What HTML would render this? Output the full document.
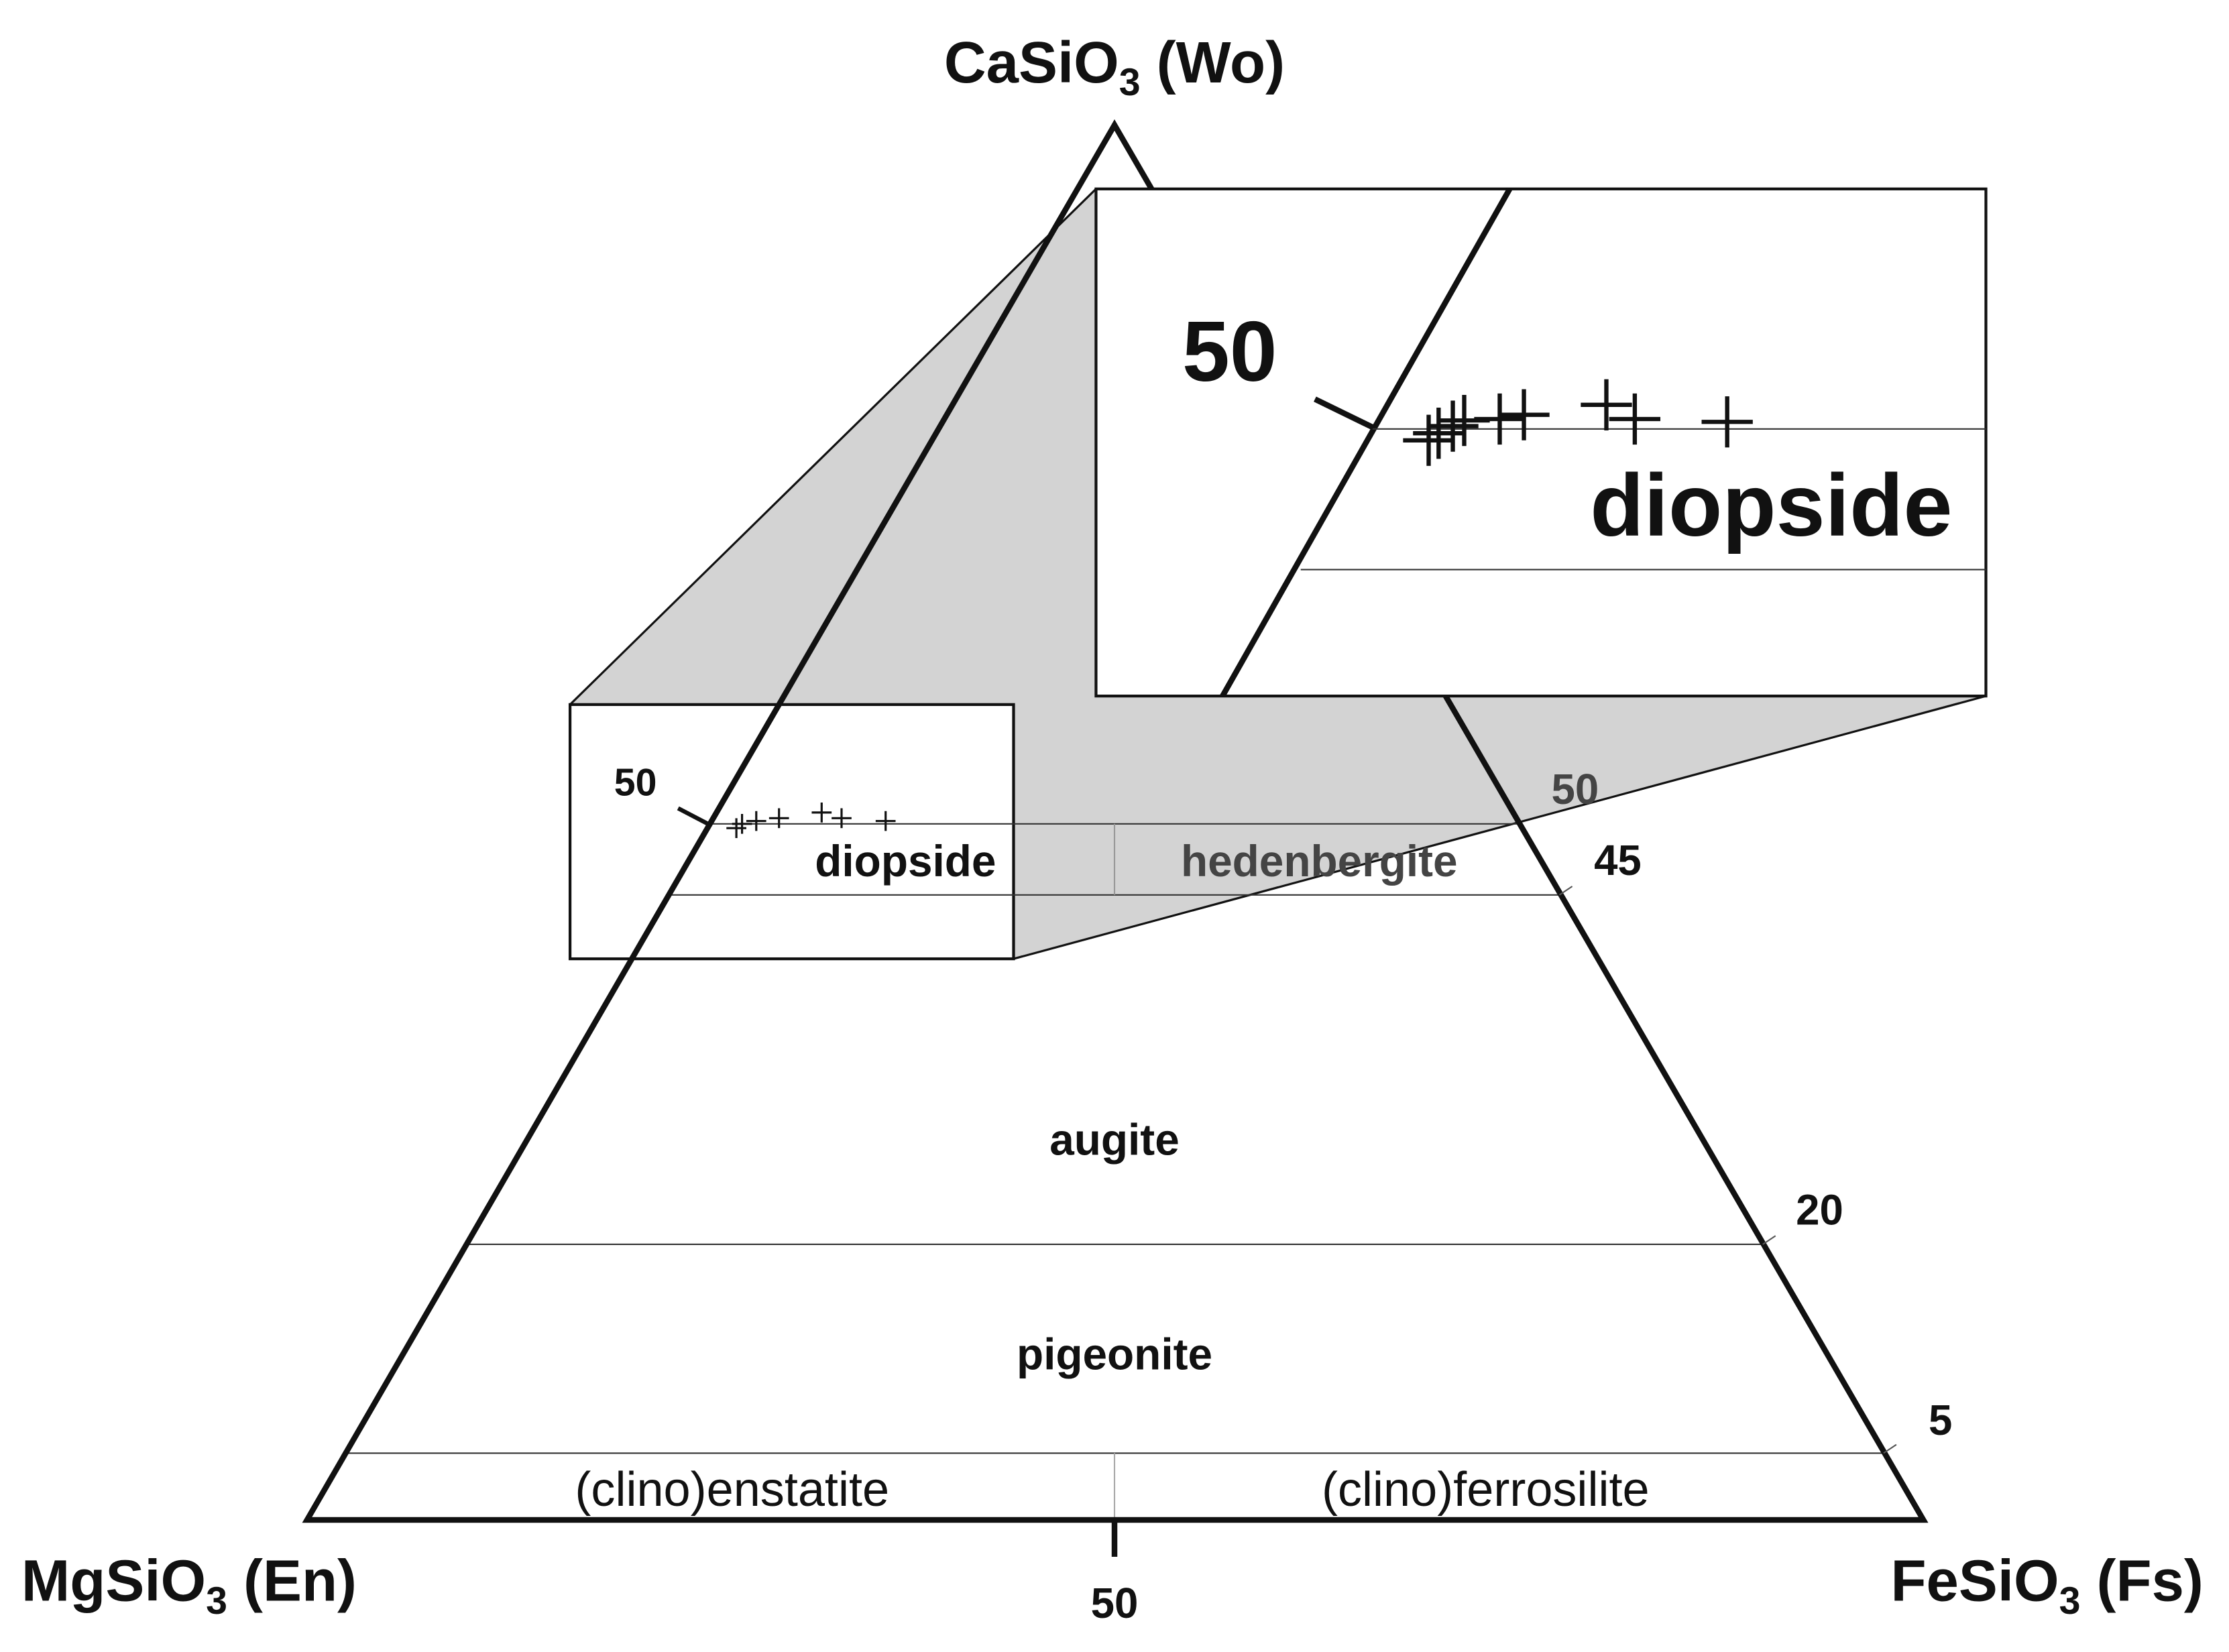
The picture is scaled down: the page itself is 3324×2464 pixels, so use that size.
<!DOCTYPE html>
<html><head><meta charset="utf-8"><style>
html,body{margin:0;padding:0;background:#fff;}
svg{display:block}
text{font-family:"Liberation Sans",Arial,sans-serif;font-weight:bold;fill:#111}
</style></head><body>
<svg width="3324" height="2464" viewBox="0 0 1568 1163" preserveAspectRatio="none" xmlns="http://www.w3.org/2000/svg">
<rect width="1568" height="1163" fill="#fff"/>
<polygon points="401,496 771,133 1397,133 1397,490 713,675 401,675" fill="#d3d3d3" stroke="none"/>
<line x1="401" y1="496" x2="771" y2="133" stroke="#111" stroke-width="1.5"/>
<line x1="713" y1="675" x2="1397" y2="490" stroke="#111" stroke-width="1.5"/>
<rect x="401" y="496" width="312" height="179" fill="#fff" stroke="#111" stroke-width="2"/>
<line x1="499" y1="580" x2="1069" y2="580" stroke="#333" stroke-width="1"/>
<line x1="470" y1="630" x2="1097" y2="630" stroke="#333" stroke-width="1"/>
<line x1="784" y1="580" x2="784" y2="630" stroke="#999" stroke-width="1"/>
<line x1="328" y1="876" x2="1240" y2="876" stroke="#333" stroke-width="1"/>
<line x1="243" y1="1023" x2="1325" y2="1023" stroke="#333" stroke-width="1"/>
<line x1="784" y1="1023" x2="784" y2="1070" stroke="#aaa" stroke-width="1"/>
<polygon points="784,88 216,1070 1353,1070" fill="none" stroke="#111" stroke-width="4" stroke-linejoin="miter"/>
<line x1="784" y1="1070" x2="784" y2="1096" stroke="#111" stroke-width="4"/>
<line x1="1097" y1="630" x2="1106" y2="624" stroke="#555" stroke-width="1"/>
<line x1="1240" y1="876" x2="1249" y2="870" stroke="#555" stroke-width="1"/>
<line x1="1325" y1="1023" x2="1334" y2="1017" stroke="#555" stroke-width="1"/>
<line x1="477" y1="569" x2="498" y2="580" stroke="#111" stroke-width="3"/>
<g stroke="#111" stroke-width="1.5">
<path d="M511,583h14M518,576v14M515,580h14M522,573v14M525,578h14M532,571v14M541,576h14M548,569v14M571,572h14M578,565v14M585,576h14M592,569v14M616,578h14M623,571v14"/>
</g>
<text x="447" y="560" font-size="27" text-anchor="middle">50</text>
<text x="637" y="617" font-size="31" text-anchor="middle">diopside</text>
<text x="928" y="617" font-size="31" text-anchor="middle" style="fill:#444">hedenbergite</text>
<text x="1108" y="566" font-size="30" text-anchor="middle" style="fill:#444">50</text>
<text x="1138" y="616" font-size="30" text-anchor="middle">45</text>
<text x="1280" y="862" font-size="30" text-anchor="middle">20</text>
<text x="1365" y="1010" font-size="30" text-anchor="middle">5</text>
<text x="784" y="813" font-size="31" text-anchor="middle">augite</text>
<text x="784" y="964" font-size="31" text-anchor="middle">pigeonite</text>
<text x="515" y="1060" font-size="34" text-anchor="middle" style="font-weight:normal">(clino)enstatite</text>
<text x="1045" y="1060" font-size="34" text-anchor="middle" style="font-weight:normal">(clino)ferrosilite</text>
<text x="784" y="1139" font-size="30" text-anchor="middle">50</text>
<text x="784" y="58" font-size="41" text-anchor="middle">CaSiO<tspan font-size="27" dy="9">3</tspan><tspan dy="-9"> (Wo)</tspan></text>
<text x="133" y="1127" font-size="41" text-anchor="middle">MgSiO<tspan font-size="27" dy="9">3</tspan><tspan dy="-9"> (En)</tspan></text>
<text x="1440" y="1127" font-size="41" text-anchor="middle">FeSiO<tspan font-size="27" dy="9">3</tspan><tspan dy="-9"> (Fs)</tspan></text>
<rect x="771" y="133" width="626" height="357" fill="#fff" stroke="#111" stroke-width="2"/>
<line x1="860" y1="490" x2="1062" y2="133" stroke="#111" stroke-width="4"/>
<line x1="965" y1="302" x2="1397" y2="302" stroke="#333" stroke-width="1"/>
<line x1="915" y1="401" x2="1397" y2="401" stroke="#333" stroke-width="1"/>
<line x1="925" y1="281" x2="966" y2="301" stroke="#111" stroke-width="4"/>
<text x="865" y="268" font-size="60" text-anchor="middle">50</text>
<text x="1246" y="377" font-size="62" text-anchor="middle">diopside</text>
<g stroke="#111" stroke-width="3">
<path d="M987,310h36M1005,292v36M994,305h36M1012,287v36M1004,300h36M1022,282v36M1012,296h36M1030,278v36M1037,295h36M1055,277v36M1054,292h36M1072,274v36M1112,285h36M1130,267v36M1132,295h36M1150,277v36M1197,297h36M1215,279v36"/>
</g>
</svg>
</body></html>
